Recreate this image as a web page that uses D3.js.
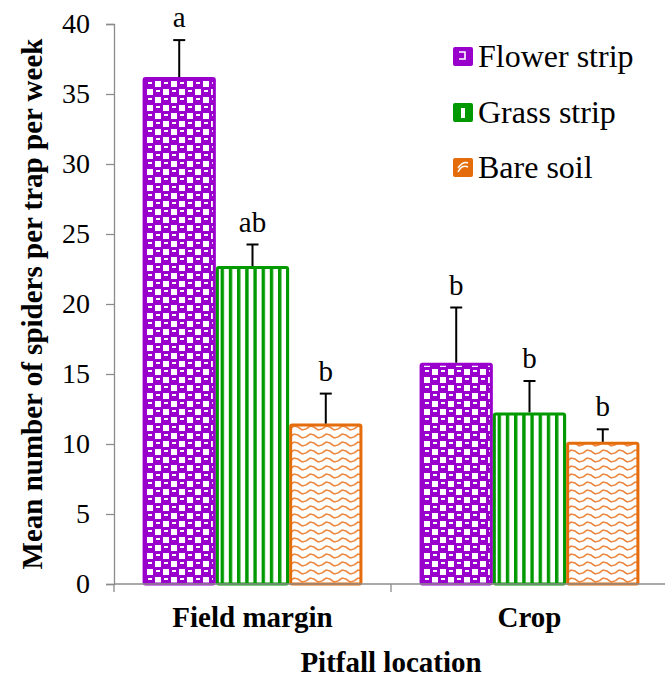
<!DOCTYPE html>
<html>
<head>
<meta charset="utf-8">
<script src="https://cdn.jsdelivr.net/npm/d3@7"></script>
<style>
  body { margin: 0; background: #fff; }
  svg text { font-family: "Liberation Serif", "Times New Roman", serif; fill: #000; }
</style>
</head>
<body>
<div id="graph"></div>
<script>
const svgw = 665
const svgh = 679
const margin = {left: 114, right: -3, top: 24, bottom: 95}

const locations = ['Field margin', 'Crop']
const series = ['Flower strip', 'Grass strip', 'Bare soil']
const means = [[36.1, 22.6, 11.35], [15.7, 12.15, 10.05]]
const errors = [[2.75, 1.65, 2.25], [4.05, 2.35, 1.0]]
const letters = [['a', 'ab', 'b'], ['b', 'b', 'b']]
const yTicks = [0, 5, 10, 15, 20, 25, 30, 35, 40]
const colors = ['#9900cc', '#009900', '#e46c0a']
const patternIds = ['pFlower', 'pGrass', 'pBare']

const svg = d3.select('#graph')
    .append('svg')
    .attr('width', svgw)
    .attr('height', svgh)

const defs = svg.append('defs')

// flower strip: purple with white checks and small white dashes
const pf = defs.append('pattern')
    .attr('id', 'pFlower')
    .attr('patternUnits', 'userSpaceOnUse')
    .attr('width', 16).attr('height', 16)
pf.append('rect').attr('width', 16).attr('height', 16).attr('fill', colors[0])
pf.append('rect').attr('x', 9).attr('y', 1).attr('width', 6).attr('height', 6).attr('fill', '#fff')
pf.append('rect').attr('x', 1).attr('y', 9).attr('width', 6).attr('height', 6).attr('fill', '#fff')
pf.append('rect').attr('x', 2).attr('y', 2).attr('width', 4).attr('height', 2).attr('fill', '#fff')
pf.append('rect').attr('x', 10).attr('y', 10).attr('width', 4).attr('height', 2).attr('fill', '#fff')

// grass strip: vertical stripes
const pg = defs.append('pattern')
    .attr('id', 'pGrass')
    .attr('patternUnits', 'userSpaceOnUse')
    .attr('width', 8.2).attr('height', 8)
pg.append('rect').attr('width', 8.2).attr('height', 8).attr('fill', '#fff')
pg.append('rect').attr('x', 0).attr('width', 3.4).attr('height', 8).attr('fill', colors[1])

// bare soil: wavy orange lines
const pb = defs.append('pattern')
    .attr('id', 'pBare')
    .attr('patternUnits', 'userSpaceOnUse')
    .attr('width', 16).attr('height', 8)
pb.append('rect').attr('width', 16).attr('height', 8).attr('fill', '#fff')
pb.append('path')
    .attr('d', 'M0,5 L4,2 L8,3 L12,6 L16,5')
    .attr('fill', 'none')
    .attr('stroke', '#ec8840')
    .attr('stroke-width', 1.6)

const x0 = d3.scaleBand()
    .domain(locations)
    .range([margin.left, svgw - margin.right])
const x1 = d3.scaleBand()
    .domain(series)
    .range([0, x0.bandwidth()])
    .paddingOuter(0.39)
const y = d3.scaleLinear()
    .domain([0, 40])
    .range([svgh - margin.bottom, margin.top])

const gray = '#8c8c8c'

function serif(sel, size, bold) {
    sel.style('font-family', '"Liberation Serif", "Times New Roman", serif')
        .style('font-size', size + 'px')
        .style('font-weight', bold ? 'bold' : 'normal')
        .attr('fill', '#000')
    return sel
}

// y axis
const yAxis = svg.append('g')
    .attr('transform', `translate(${margin.left},0)`)
    .call(d3.axisLeft(y).tickValues(yTicks).tickSize(8).tickPadding(16).tickFormat(d3.format('d')))
yAxis.selectAll('line').attr('stroke', gray).attr('stroke-width', 1.3)
yAxis.select('.domain').attr('stroke', gray).attr('stroke-width', 1.3)
serif(yAxis.selectAll('text'), 28).attr('dy', '0.32em')

// bars
const groups = svg.selectAll('.grp')
    .data(locations)
    .enter()
    .append('g')
    .attr('class', 'grp')
    .attr('transform', d => `translate(${x0(d)},0)`)

const bw = x1.bandwidth()
groups.each(function(loc, li) {
    const g = d3.select(this)
    series.forEach((s, si) => {
        const v = means[li][si]
        const bx = x1(s)
        g.append('rect')
            .attr('x', bx + 1.5)
            .attr('y', y(v))
            .attr('width', bw - 3)
            .attr('height', y(0) - y(v))
            .attr('rx', 1.5)
            .attr('fill', `url(#${patternIds[si]})`)
            .attr('stroke', colors[si])
            .attr('stroke-width', 3)
        const cx = bx + bw / 2
        const top = y(v + errors[li][si])
        g.append('line')
            .attr('x1', cx).attr('x2', cx)
            .attr('y1', y(v) - 1.5).attr('y2', top)
            .attr('stroke', '#000').attr('stroke-width', 2)
        g.append('line')
            .attr('x1', cx - 6).attr('x2', cx + 6)
            .attr('y1', top).attr('y2', top)
            .attr('stroke', '#000').attr('stroke-width', 2)
        serif(g.append('text'), 29)
            .attr('x', cx)
            .attr('y', top - 13)
            .attr('text-anchor', 'middle')
            .text(letters[li][si])
    })
})

// x axis
const xAxis = svg.append('g')
    .attr('transform', `translate(0,${y(0)})`)
xAxis.append('line')
    .attr('x1', margin.left).attr('x2', svgw)
    .attr('stroke', gray).attr('stroke-width', 1.3)
const bounds = [margin.left, x0('Crop')]
xAxis.selectAll('.xt')
    .data(bounds)
    .enter()
    .append('line')
    .attr('x1', d => d).attr('x2', d => d)
    .attr('y1', 0).attr('y2', 8)
    .attr('stroke', gray).attr('stroke-width', 1.3)
serif(xAxis.selectAll('.xl')
    .data(locations)
    .enter()
    .append('text'), 29, true)
    .attr('x', d => x0(d) + x0.bandwidth() / 2)
    .attr('y', 43)
    .attr('text-anchor', 'middle')
    .text(d => d)

serif(svg.append('text'), 29, true)
    .attr('x', x0('Crop'))
    .attr('y', 672)
    .attr('text-anchor', 'middle')
    .text('Pitfall location')

serif(svg.append('text'), 29, true)
    .attr('transform', `translate(42,${(margin.top + y(0)) / 2}) rotate(-90)`)
    .attr('text-anchor', 'middle')
    .text('Mean number of spiders per trap per week')

// legend
const legend = svg.append('g')
    .attr('transform', 'translate(453,0)')
const ly = [67, 123, 178]
series.forEach((s, i) => {
    legend.append('rect')
        .attr('x', 0).attr('y', ly[i] - 20)
        .attr('width', 20).attr('height', 19)
        .attr('rx', 2)
        .attr('fill', colors[i])
    serif(legend.append('text'), 32)
        .attr('x', 25).attr('y', ly[i])
        .text(s)
})
legend.append('path').attr('d', 'M6,52 h6 v7 h-6').attr('fill', 'none').attr('stroke', '#fff').attr('stroke-width', 1.6)
legend.append('rect').attr('x', 8).attr('y', 108).attr('width', 4).attr('height', 10).attr('fill', '#fff')
legend.append('path').attr('d', 'M5,172 Q9,164 15,167 M5,168 Q10,161 15,163').attr('fill', 'none').attr('stroke', '#fff').attr('stroke-width', 1.6)
</script>
</body>
</html>
